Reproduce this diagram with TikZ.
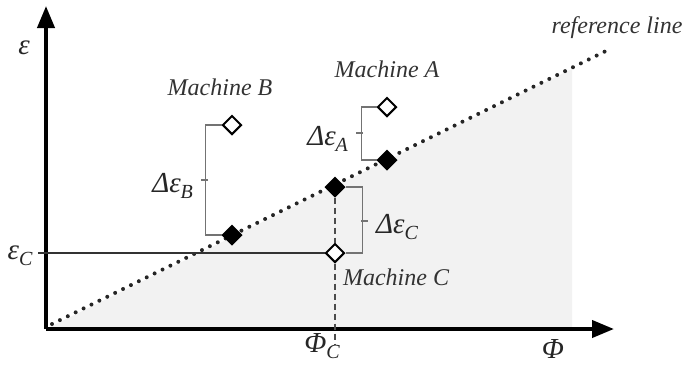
\documentclass[tikz,border=0pt]{standalone}
\usepackage{fontspec}
\setmainfont{Liberation Serif}
\usetikzlibrary{positioning,shapes.geometric,arrows.meta}
\newcommand{\lo}[1]{\raisebox{-0.45ex}{\fontsize{10}{12}\selectfont #1}}

\begin{document}
\begin{tikzpicture}[
    x=0.5pt,y=-0.5pt,
    every node/.style={font=\itshape\fontsize{12}{14}\selectfont,text=black!80},
    axis/.style={line width=2pt,-{Triangle[length=11pt,width=8.5pt]}},
    mach/.style={draw,diamond,line width=1pt,minimum size=9.5pt,inner sep=0pt},
    hit/.style={mach,fill=black},
    miss/.style={mach,fill=white},
    brc/.style={draw=black!55,line width=0.7pt},
    sym/.style={font=\itshape\fontsize{14.5}{16}\selectfont,text=black!85},
    refl/.style={line width=2pt,dash pattern=on 0pt off 4.4pt,line cap=round,black!85}
]
\useasboundingbox (0,0) rectangle (692,365);

% Origin and axes ends
\coordinate (O) at (46,329);
\coordinate (yEnd) at (46,6);
\coordinate (xEnd) at (614,329);

% Shaded area under the reference line
\fill[black!5] (O) -- (572,69) -- (572,329) -- cycle;

% Reference line
\coordinate (r0) at (52,324);
\coordinate (r1) at (612,48);
\draw[refl] (r0) -- (r1);
\node (refLab) at (617,28) {reference line};

% Axes
\draw[axis] (O) -- (yEnd);
\draw[axis] (O) -- (xEnd);
\node[sym] (epsLab) at (24,48) {ε};
\node[sym] (phiLab) at (553,349) {Φ};

% Machines
\node[miss] (aOpen) at (387,107) {};
\node[hit]  (aFill) at (387,160) {};
\node[miss] (bOpen) at (232,125) {};
\node[hit]  (bFill) at (232,235) {};
\node[hit]  (cFill) at (335,187) {};
\node[miss] (cOpen) at (335,253) {};

\node[above=6pt of aOpen] (aLab) {Machine A};
\node[above=6pt of bOpen,xshift=-6pt] (bLab) {Machine B};
\node[anchor=north west] (cLab) at ([xshift=0.5pt,yshift=1pt]cOpen.south) {Machine C};

% Level and position of machine C
\coordinate (epsTick) at (38,253);
\coordinate (phiTick) at (335,344);
\draw[black!80,line width=0.7pt] (epsTick) -- (cOpen.west);
\draw[black!70,line width=0.9pt,densely dashed] (cFill.south) -- (cOpen.north);
\draw[black!70,line width=0.9pt,densely dashed] (cOpen.south) -- (phiTick);
\node[sym] (epsC) at (20,256) {ε\lo{C}};
\node[sym] (phiC) at (322,346) {Φ\lo{C}};

% Braces
\draw[brc] (bOpen.west) -- ++(-16,0) |- (bFill.west);
\coordinate (bTick) at (208,180);
\node[sym,left=4pt of bTick,yshift=-3pt] (dB) {Δε\lo{B}};
\draw[brc,line width=1pt] (bTick) -- ++(-7,0);

\draw[brc] (aOpen.west) -- ++(-15,0) |- (aFill.west);
\coordinate (aTick) at (363,133);
\node[sym,left=4pt of aTick,yshift=-3pt] (dA) {Δε\lo{A}};
\draw[brc,line width=1pt] (aTick) -- ++(-7,0);

\draw[brc] (cFill.east) -- ++(17,0) |- (cOpen.east);
\coordinate (cTick) at (361,221);
\node[sym,right=4pt of cTick,yshift=-3pt] (dC) {Δε\lo{C}};
\draw[brc,line width=1pt] (cTick) -- ++(7,0);

\end{tikzpicture}
\end{document}
